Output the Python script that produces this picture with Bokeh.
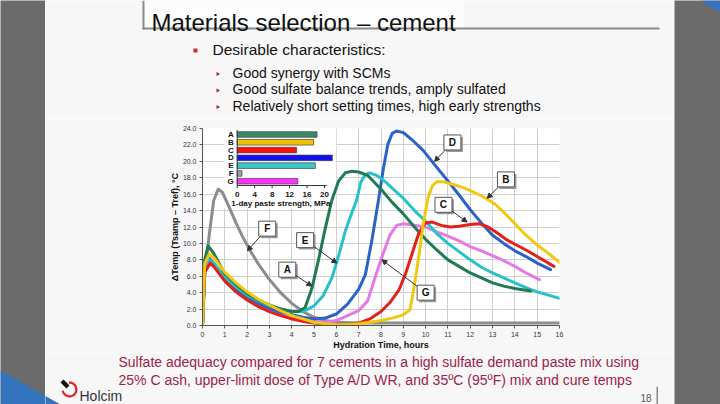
import math
from bokeh.plotting import figure
from bokeh.layouts import row, column
from bokeh.models import (Range1d, FixedTicker, NumeralTickFormatter, Arrow, NormalHead,
                          ColumnDataSource)
from bokeh.core.properties import value
from bokeh.embed import file_html
from bokeh.resources import INLINE

# ---------------- data ----------------
A_hours = [0, 0.1, 0.25, 0.5, 1, 1.5, 2, 2.5, 3, 3.5, 4, 4.3, 4.6, 4.9, 5.2, 5.5, 5.8, 6.1, 6.4, 6.7,
           7.0, 7.4, 8, 8.5, 9, 9.5, 10, 10.5, 11, 11.5, 12, 12.5, 13, 13.5, 14, 14.7]
A_temp = [0, 8.0, 9.7, 8.8, 6.3, 5.0, 3.9, 3.1, 2.5, 2.0, 1.7, 1.7, 2.2, 4.5, 8.0, 11.8, 15.3, 17.6, 18.6, 18.8,
          18.7, 18.3, 16.6, 15.0, 13.6, 12.0, 10.5, 9.2, 8.0, 7.2, 6.4, 5.8, 5.2, 4.8, 4.5, 4.2]

B_hours = [0, 0.1, 0.3, 0.5, 1, 1.5, 2, 2.5, 3, 3.5, 4, 4.5, 5, 5.5, 6, 6.5, 7, 7.5, 8, 8.5, 9, 9.3,
           9.5, 9.7, 9.9, 10.1, 10.3, 10.5, 10.8, 11.2, 11.7, 12.2, 12.7, 13.1, 13.5, 14, 14.5, 15, 15.5, 16]
B_temp = [0, 7.5, 8.7, 8.3, 6.5, 5.2, 4.1, 3.2, 2.5, 1.8, 1.2, 0.8, 0.4, 0.2, 0.1, 0.1, 0.2, 0.4, 0.6, 0.9, 1.3, 1.9,
          5.0, 8.5, 12.5, 15.5, 17.0, 17.5, 17.5, 17.2, 16.8, 16.2, 15.5, 14.8, 13.8, 12.4, 11.0, 9.8, 8.8, 7.7]

C_hours = [0, 0.1, 0.35, 0.5, 1, 1.5, 2, 2.5, 3, 3.5, 4, 4.5, 5, 5.5, 6, 6.5, 7, 7.5, 8, 8.4, 8.8,
           9.1, 9.4, 9.7, 10.0, 10.3, 10.7, 11.1, 11.5, 12.0, 12.4, 12.8, 13.2, 13.6, 14, 14.5, 15, 15.75]
C_temp = [0, 6.5, 7.6, 7.2, 5.4, 4.1, 3.1, 2.3, 1.7, 1.2, 0.8, 0.5, 0.3, 0.15, 0.1, 0.1, 0.3, 0.8, 1.7, 2.8, 4.3,
          6.3, 8.8, 11.3, 12.5, 12.6, 12.2, 12.0, 12.1, 12.3, 12.4, 12.0, 11.3, 10.5, 9.9, 9.2, 8.4, 7.2]

D_hours = [0, 0.1, 0.3, 0.5, 1, 1.5, 2, 2.5, 3, 3.5, 4, 4.5, 5, 5.5, 6, 6.5, 7, 7.3, 7.6, 7.9, 8.1,
           8.3, 8.5, 8.7, 9.0, 9.4, 9.9, 10.4, 11, 11.5, 12, 12.5, 13, 13.5, 14, 14.5, 15, 15.6]
D_temp = [0, 7.0, 8.2, 7.6, 5.6, 4.4, 3.4, 2.7, 2.1, 1.6, 1.3, 1.0, 0.8, 0.9, 1.4, 2.6, 4.4, 6.2, 10.5, 15.5, 19.0,
          22.0, 23.4, 23.7, 23.5, 22.6, 21.3, 19.6, 17.6, 15.9, 14.1, 12.5, 11.0, 10.0, 9.1, 8.4, 7.6, 6.8]

E_hours = [0, 0.1, 0.3, 0.5, 1, 1.5, 2, 2.5, 3, 3.5, 4, 4.5, 5, 5.4, 5.8, 6.1, 6.4, 6.7, 6.9, 7.1,
           7.3, 7.5, 7.8, 8.2, 8.6, 9, 9.5, 10, 10.5, 11, 11.5, 12, 12.5, 13, 13.5, 14, 14.5, 15, 15.5, 16]
E_temp = [0, 7.0, 8.0, 7.6, 5.9, 4.7, 3.7, 3.0, 2.4, 2.0, 1.7, 1.7, 2.4, 3.6, 5.8, 8.5, 11.5, 13.8, 15.2, 17.5,
          18.4, 18.6, 18.3, 17.5, 16.5, 15.5, 14.0, 12.7, 11.2, 10.0, 9.0, 8.0, 7.1, 6.4, 5.8, 5.2, 4.6, 4.1, 3.7, 3.3]

F_hours = [0, 0.1, 0.3, 0.5, 0.7, 0.9, 1.2, 1.5, 1.8, 2.1, 2.5, 3, 3.5, 4, 4.5, 5, 5.5, 6, 7, 8, 10, 12, 14, 16]
F_temp = [0, 6.0, 11.0, 15.2, 16.6, 16.2, 14.4, 12.5, 10.8, 9.3, 7.5, 5.6, 4.0, 2.7, 1.7, 1.0, 0.6, 0.4, 0.3, 0.3,
          0.3, 0.3, 0.3, 0.3]

G_hours = [0, 0.1, 0.3, 0.5, 1, 1.5, 2, 2.5, 3, 3.5, 4, 4.5, 5, 5.5, 6, 6.5, 7, 7.4, 7.8, 8.1, 8.4,
           8.7, 9, 9.5, 10, 10.5, 11, 11.5, 12, 12.5, 13, 13.5, 14, 14.5, 15.1]
G_temp = [0, 6.8, 7.9, 7.5, 5.6, 4.3, 3.3, 2.5, 1.9, 1.4, 1.0, 0.7, 0.5, 0.4, 0.6, 1.2, 1.8, 3.0, 6.4, 8.8, 11.0,
          12.2, 12.4, 12.2, 12.0, 11.4, 10.9, 10.3, 9.6, 9.1, 8.5, 7.9, 7.2, 6.4, 5.6]

cements = ["A", "B", "C", "D", "E", "F", "G"]
strength_mpa = [18.3, 17.5, 13.6, 21.8, 17.9, 1.1, 13.9]
strength_ticks = [0, 4, 8, 12, 16, 20]

hour_ticks = list(range(0, 17))
temp_ticks = list(range(0, 25, 2))

callout_box_h = [3.8, 13.6, 10.8, 11.2, 4.6, 2.9, 10.0]
callout_box_t = [6.8, 17.8, 14.7, 22.3, 10.4, 11.8, 4.0]
callout_tip_h = [4.9, 12.76, 11.86, 10.4, 6.02, 2.01, 8.04]
callout_tip_t = [4.8, 15.5, 12.6, 20.0, 7.6, 9.1, 8.0]

title_text = "Materials selection – cement"
bullet_text = "Desirable characteristics:"
sub_bullets = ["Good synergy with SCMs",
               "Good sulfate balance trends, amply sulfated",
               "Relatively short setting times, high early strengths"]
caption_lines = ["Sulfate adequacy compared for 7 cements in a high sulfate demand paste mix using",
                 "25% C ash, upper-limit dose of Type A/D WR, and 35ºC (95ºF) mix and cure temps"]

# ---------------- styling ----------------
FONT = "Liberation Sans"
SLIDE = "#f8f7f8"
SIDE = "#6b6b6b"
BLUE = "#3473bd"
curve_colors = {"A": "#1e7b52", "B": "#f2c80f", "C": "#e3211c", "D": "#2a62c9",
                "E": "#26c1c9", "F": "#8c8c8c", "G": "#e878e6"}
bar_colors = ["#3a8a68", "#f2c200", "#ff1010", "#1010ee", "#3cc8c8", "#a0a0a0", "#ff30ff"]


def panel(x0, x1, y0, y1, bg):
    """A plain figure whose ranges are the window's pixel coordinates (y negated)."""
    f = figure(width=x1 - x0, height=y1 - y0, x_range=Range1d(x0, x1), y_range=Range1d(-y1, -y0),
               output_backend="svg", toolbar_location=None, x_axis_type=None, y_axis_type=None,
               min_border=0, background_fill_color=bg, border_fill_color=bg, outline_line_color=None,
               frame_align=False)
    f.xgrid.visible = False
    f.ygrid.visible = False
    return f


def txt(f, x, y, s, size, color="#111111", align="left", baseline="middle", style="normal"):
    f.text(x=[x], y=[-y], text=[s], text_font=value(FONT), text_font_size=size, text_color=color,
           text_align=align, text_baseline=baseline, text_font_style=style)


def rect(f, l, r, t, b, color):
    f.quad(left=[l], right=[r], top=[-t], bottom=[-b], fill_color=color, line_color=None)


def tri(f, xs, ys, color):
    f.patch(xs, [-v for v in ys], fill_color=color, line_color=None)


# ---- side panels ----
left = panel(0, 45, 0, 404, SIDE)
tri(left, [0, 60, 0], [370, 404, 404], BLUE)
right = panel(674, 720, 0, 404, SIDE)
tri(right, [700, 720, 720], [0, 0, 12], BLUE)

# ---- top panel: title and bullets ----
top = panel(45, 674, 0, 118, SLIDE)
rect(top, 143, 463, 0, 27, "#fdfdfd")
rect(top, 142, 144, 0, 29, "#8a8a8a")
rect(top, 142, 659, 27, 29, "#8a8a8a")
txt(top, 151, 22, title_text, "24px", baseline="alphabetic")
rect(top, 193, 197, 48, 52, "#d6282d")
txt(top, 212, 49, bullet_text, "15.5px")
for yy, s in zip([72, 88.5, 105], sub_bullets):
    tri(top, [216, 219.5, 216], [yy - 0.5, yy + 1.5, yy + 3.5], "#a0282d")
    txt(top, 232, yy, s, "14px")

# ---- bottom panel: caption and footer ----
bot = panel(45, 674, 352, 404, SLIDE)
tri(bot, [0, 60, 0], [370, 404, 404], BLUE)
for yy, s in zip([361, 379], caption_lines):
    txt(bot, 118, yy, s, "14px", "#9c2347")
txt(bot, 651, 397, "18", "10px", "#555555", align="right")
rect(bot, 656, 657.5, 386, 404, "#8a8a8a")
arc_x, arc_y = [], []
for k in range(25):
    a = math.radians(95 - k * 11)
    arc_x.append(69 + 8 * math.cos(a)); arc_y.append(389 - 8 * math.sin(a))
for k in range(24, -1, -1):
    a = math.radians(95 - k * 11)
    arc_x.append(69 + 5.8 * math.cos(a)); arc_y.append(389 - 5.8 * math.sin(a))
tri(bot, arc_x, arc_y, "#d8232a")
tri(bot, [60, 63, 69, 66], [382, 379, 385, 388], "#111111")
txt(bot, 79, 403, "Holcim", "14px", "#333333", baseline="bottom")

# ---- chart panel ----
CW, CH = 629, 234
FL, FR, FT, FB = 157, 629 - 115, 10, 234 - 26   # frame edges inside chart panel
p_chart = figure(width=CW, height=CH, x_range=Range1d(0, 16), y_range=Range1d(0, 24),
                 output_backend="svg", toolbar_location=None, frame_align=False,
                 min_border_left=FL, min_border_right=CW - FR, min_border_top=FT, min_border_bottom=CH - FB,
                 background_fill_color="#ffffff", border_fill_color=SLIDE, outline_line_color=None)
p_chart.extra_x_ranges = {"mpa": Range1d(-7.95, 73.84)}
p_chart.extra_y_ranges = {"cem": Range1d(-24.52, 0.77)}

p_chart.xaxis.ticker = FixedTicker(ticks=hour_ticks)
p_chart.yaxis.ticker = FixedTicker(ticks=temp_ticks)
p_chart.yaxis.formatter = NumeralTickFormatter(format="0.0")
p_chart.xaxis.axis_label = "Hydration Time, hours"
p_chart.yaxis.axis_label = "ΔTemp (Tsamp – Tref), °C"
for ax in (p_chart.xaxis, p_chart.yaxis):
    ax.major_label_text_font = FONT
    ax.major_label_text_font_size = "7px"
    ax.major_label_text_color = "#333333"
    ax.axis_label_text_font = FONT
    ax.axis_label_text_font_size = "9px"
    ax.axis_label_text_font_style = "bold"
    ax.axis_label_text_color = "#111111"
    ax.axis_line_color = "#555555"
    ax.major_tick_line_color = "#555555"
    ax.major_tick_out = 3
    ax.major_tick_in = 0
    ax.minor_tick_line_color = None
    ax.major_label_standoff = 3
    ax.axis_label_standoff = 0
p_chart.xgrid.grid_line_color = "#cfcfcf"
p_chart.ygrid.grid_line_color = "#cfcfcf"

# inset background
p_chart.quad(left=[-3.0], right=[22.7], top=[0.9], bottom=[-9.5], x_range_name="mpa", y_range_name="cem",
             fill_color="#ffffff", line_color=None)

# curves
series = [("F", F_hours, F_temp), ("G", G_hours, G_temp), ("D", D_hours, D_temp),
          ("E", E_hours, E_temp), ("A", A_hours, A_temp), ("C", C_hours, C_temp),
          ("B", B_hours, B_temp)]
for name, hs, ts in series:
    p_chart.line(hs, ts, line_color=curve_colors[name], line_width=3, line_join="round", line_cap="round")

# inset bar chart
ypos = [-i for i in range(len(cements))]
p_chart.hbar(y=ypos, left=0, right=strength_mpa, height=0.72, x_range_name="mpa", y_range_name="cem",
             fill_color=bar_colors, line_color="#444444", line_width=0.7)
p_chart.text(x=[-0.8] * len(cements), y=ypos, text=cements, x_range_name="mpa", y_range_name="cem",
             text_align="right", text_baseline="middle", text_font=value(FONT), text_font_size="8px",
             text_font_style="bold", text_color="#111111")
axis_y = -6.55
p_chart.line([strength_ticks[0], strength_ticks[-1] + 0.5], [axis_y, axis_y], x_range_name="mpa",
             y_range_name="cem", line_color="#333333", line_width=1)
p_chart.line([0, 0], [0.6, axis_y], x_range_name="mpa", y_range_name="cem", line_color="#333333", line_width=1)
p_chart.segment(x0=strength_ticks, y0=[axis_y] * 6, x1=strength_ticks, y1=[axis_y - 0.35] * 6,
                x_range_name="mpa", y_range_name="cem", line_color="#333333")
p_chart.text(x=strength_ticks, y=[-7.7] * 6, text=[str(t) for t in strength_ticks], x_range_name="mpa",
             y_range_name="cem", text_align="center", text_baseline="middle", text_font=value(FONT),
             text_font_size="8px", text_font_style="bold", text_color="#111111")
p_chart.text(x=[10], y=[-8.85], text=["1-day paste strength, MPa"], x_range_name="mpa", y_range_name="cem",
             text_align="center", text_baseline="middle", text_font=value(FONT), text_font_size="8px",
             text_font_style="bold", text_color="#111111")

# callouts
hx = 16 / (FR - FL)
ty = 24 / (FB - FT)
bw, bh = 17, 15
starts_x, starts_y = [], []
for ch, ct, th, tt in zip(callout_box_h, callout_box_t, callout_tip_h, callout_tip_t):
    dxp = (th - ch) / hx
    dyp = (tt - ct) / ty
    s = min((bw / 2) / abs(dxp) if dxp else 1e9, (bh / 2) / abs(dyp) if dyp else 1e9)
    starts_x.append(ch + dxp * s * hx)
    starts_y.append(ct + dyp * s * ty)
arrow_src = ColumnDataSource(dict(x0=starts_x, y0=starts_y, x1=callout_tip_h, y1=callout_tip_t))
p_chart.add_layout(Arrow(end=NormalHead(size=5, fill_color="#333333", line_color="#333333"),
                         x_start="x0", y_start="y0", x_end="x1", y_end="y1", source=arrow_src,
                         line_color="#333333", line_width=1))
p_chart.rect(x=[h + 2 * hx for h in callout_box_h], y=[t - 2 * ty for t in callout_box_t], width=bw, height=bh,
             width_units="screen", height_units="screen", fill_color="#9a9a9a", line_color=None)
p_chart.rect(x=callout_box_h, y=callout_box_t, width=bw, height=bh, width_units="screen", height_units="screen",
             fill_color="#ffffff", line_color="#555555", line_width=1)
p_chart.text(x=callout_box_h, y=callout_box_t, text=cements, text_align="center", text_baseline="middle",
             text_font=value(FONT), text_font_size="10px", text_font_style="bold", text_color="#111111")

p = row(left, column(top, p_chart, bot, spacing=0), right, spacing=0)

open("out.html", "w").write(file_html(p, INLINE))
